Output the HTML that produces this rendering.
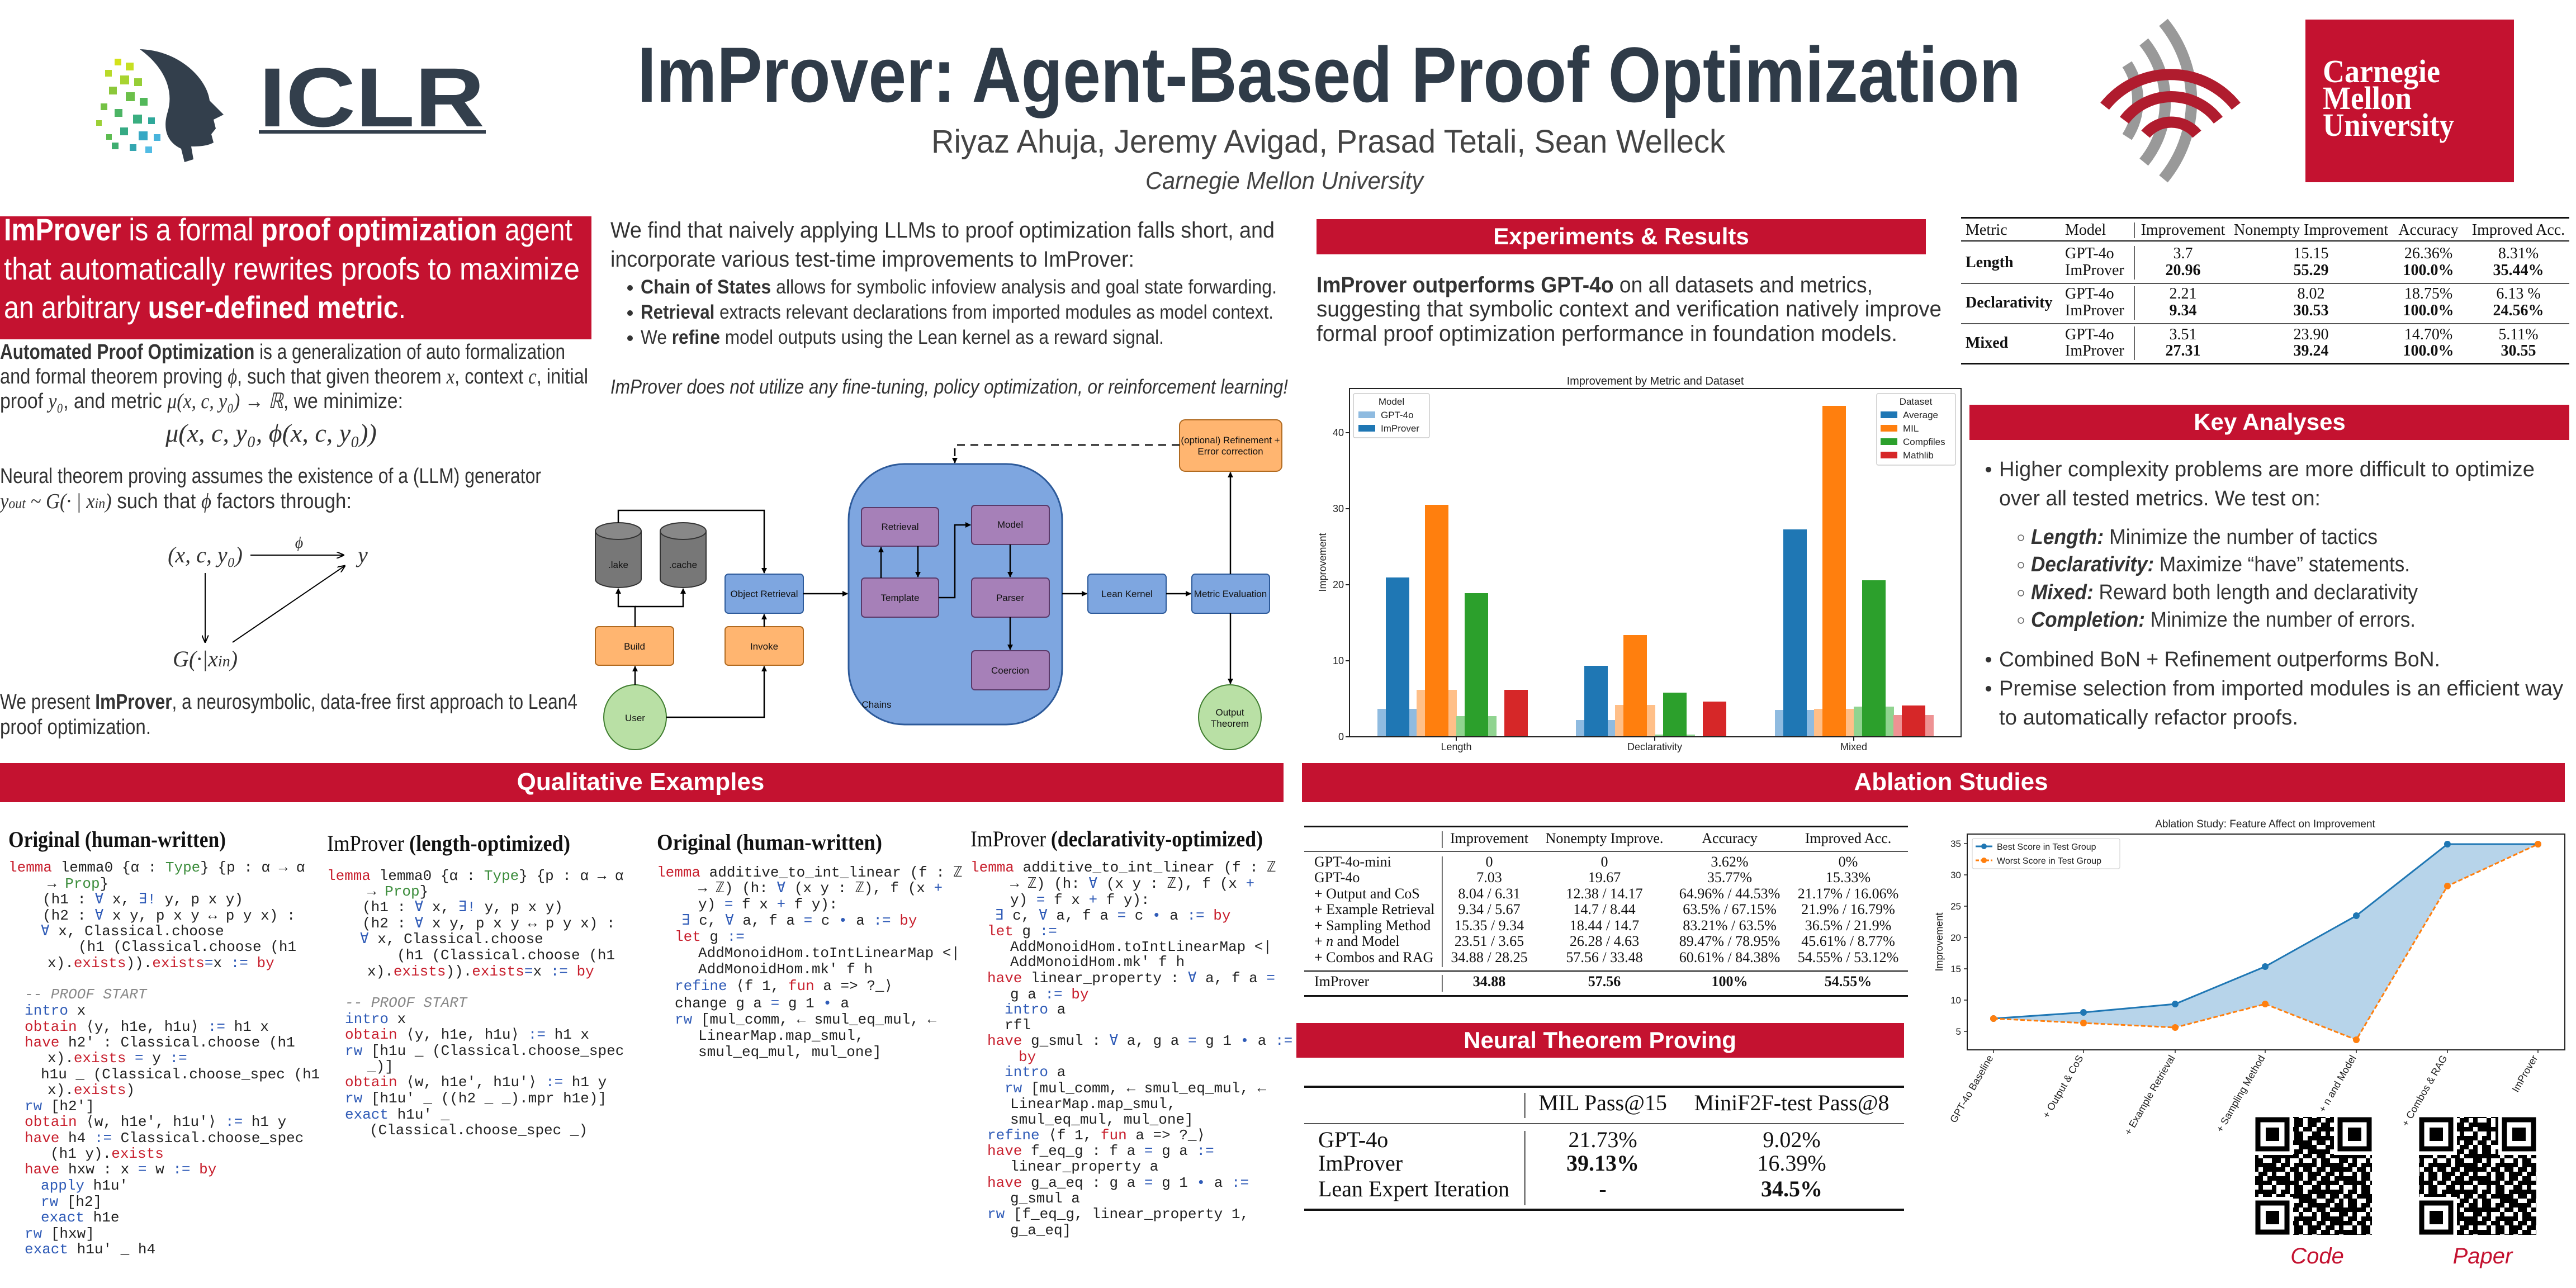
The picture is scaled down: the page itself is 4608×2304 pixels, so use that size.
<!DOCTYPE html>
<html><head><meta charset="utf-8"><style>
html,body{margin:0;padding:0;background:#fff;}
svg{display:block}
.s{font-family:"Liberation Sans",sans-serif}
.sr{font-family:"Liberation Serif",serif}
.m{font-family:"Liberation Mono",monospace;font-size:26px;fill:#222}
.k{fill:#c8202e}.t{fill:#2f5bb7}.g{fill:#3c8d3c}.c{fill:#888;font-style:italic}
.bx{font-family:"Liberation Sans",sans-serif;font-size:17px;fill:#111;text-anchor:middle}
</style></head><body>
<svg width="4608" height="2304" viewBox="0 0 4608 2304" xmlns="http://www.w3.org/2000/svg">
<defs>
<marker id="ar" markerWidth="10" markerHeight="10" refX="9" refY="5" orient="auto" markerUnits="userSpaceOnUse"><path d="M0,0 L10,5 L0,10 z" fill="#000"/></marker>
<marker id="ar2" markerWidth="14" markerHeight="12" refX="13" refY="6" orient="auto" markerUnits="userSpaceOnUse"><path d="M0,0 L14,6 L0,12" fill="none" stroke="#000" stroke-width="2"/></marker>
<pattern id="qr" width="24" height="24" patternUnits="userSpaceOnUse"><rect x="0" y="0" width="8" height="8"/><rect x="16" y="0" width="8" height="8"/><rect x="8" y="8" width="8" height="8"/><rect x="0" y="16" width="16" height="8"/></pattern>
<pattern id="qr2" width="40" height="32" patternUnits="userSpaceOnUse"><rect x="0" y="0" width="16" height="8"/><rect x="24" y="8" width="8" height="16"/><rect x="8" y="16" width="8" height="8"/><rect x="32" y="24" width="8" height="8"/></pattern>
</defs>
<rect width="4608" height="2304" fill="#fff"/>

<!-- ICLR logo -->
<path d="M250,88 C320,90 370,140 375,180 L400,205 L382,214 L386,230 L378,240 L382,255 C370,262 352,262 342,262 L346,285 L330,290 L324,266 C300,255 290,232 300,200 C312,160 292,118 250,88 Z" fill="#333f4c"/>
<g>
<rect x="205" y="105" width="12" height="12" fill="#d4e21a"/><rect x="225" y="112" width="14" height="14" fill="#c6df22"/><rect x="188" y="125" width="12" height="12" fill="#b8da2a"/><rect x="215" y="135" width="16" height="16" fill="#a8d430"/><rect x="240" y="140" width="14" height="14" fill="#96ce36"/><rect x="195" y="155" width="14" height="14" fill="#8cc83a"/><rect x="225" y="165" width="16" height="16" fill="#6cc04a"/><rect x="250" y="175" width="14" height="14" fill="#52b85a"/><rect x="180" y="185" width="12" height="12" fill="#74c244"/><rect x="205" y="195" width="14" height="14" fill="#4cb464"/><rect x="238" y="205" width="16" height="16" fill="#3aae80"/><rect x="265" y="210" width="12" height="12" fill="#2fa89a"/><rect x="215" y="228" width="14" height="14" fill="#36aa84"/><rect x="248" y="235" width="16" height="16" fill="#36a8c4"/><rect x="275" y="240" width="12" height="12" fill="#48b4dc"/><rect x="200" y="255" width="12" height="12" fill="#3fae70"/><rect x="232" y="258" width="12" height="12" fill="#33a6b0"/><rect x="260" y="262" width="12" height="12" fill="#52bce4"/><rect x="172" y="215" width="10" height="10" fill="#9cd036"/><rect x="190" y="240" width="10" height="10" fill="#5cbc50"/>
</g>
<text x="463" y="226" class="s" font-size="150" font-weight="bold" fill="#333f4c" textLength="404" lengthAdjust="spacingAndGlyphs">ICLR</text>
<rect x="463" y="233" width="406" height="6" fill="#333f4c"/>

<!-- Title -->
<text x="1140" y="182" class="s" font-size="140" font-weight="bold" fill="#2f3b48" textLength="2475" lengthAdjust="spacingAndGlyphs">ImProver: Agent-Based Proof Optimization</text>
<text x="1666" y="273" class="s" font-size="58" fill="#444" textLength="1420" lengthAdjust="spacingAndGlyphs">Riyaz Ahuja, Jeremy Avigad, Prasad Tetali, Sean Welleck</text>
<text x="2049" y="338" class="s" font-size="44" font-style="italic" fill="#444" textLength="497" lengthAdjust="spacingAndGlyphs">Carnegie Mellon University</text>

<!-- CMU wave logo -->
<g fill="none" stroke-width="20" stroke-linecap="butt">
<path d="M3805,115 A120,120 0 0 1 3805,245" stroke="#999"/>
<path d="M3835,75 A170,170 0 0 1 3835,290" stroke="#999"/>
<path d="M3870,40 A220,220 0 0 1 3870,320" stroke="#999"/>
<path d="M3838,240 A60,60 0 0 1 3930,240" stroke="#b01c2e"/>
<path d="M3800,215 A105,105 0 0 1 3968,215" stroke="#b01c2e"/>
<path d="M3765,190 A150,150 0 0 1 4000,190" stroke="#b01c2e"/>
</g>
<!-- CMU box -->
<rect x="4124" y="35" width="373" height="291" fill="#c41230"/>
<text x="4155" y="147" class="sr" font-size="58" font-weight="bold" fill="#fff" textLength="210" lengthAdjust="spacingAndGlyphs">Carnegie</text>
<text x="4155" y="195" class="sr" font-size="58" font-weight="bold" fill="#fff" textLength="159" lengthAdjust="spacingAndGlyphs">Mellon</text>
<text x="4155" y="243" class="sr" font-size="58" font-weight="bold" fill="#fff" textLength="235" lengthAdjust="spacingAndGlyphs">University</text>

<!-- Left column -->
<rect x="0" y="387" width="1058" height="220" fill="#c41230"/>
<g class="s" font-size="56" fill="#fff">
<text x="7" y="430" textLength="1017" lengthAdjust="spacingAndGlyphs"><tspan font-weight="bold">ImProver</tspan> is a formal <tspan font-weight="bold">proof optimization</tspan> agent</text>
<text x="7" y="500" textLength="1030" lengthAdjust="spacingAndGlyphs">that automatically rewrites proofs to maximize</text>
<text x="7" y="569" textLength="719" lengthAdjust="spacingAndGlyphs">an arbitrary <tspan font-weight="bold">user-defined metric</tspan>.</text>
</g>
<g class="s" font-size="38" fill="#333">
<text x="0" y="642" textLength="1011" lengthAdjust="spacingAndGlyphs"><tspan font-weight="bold">Automated Proof Optimization</tspan> is a generalization of auto formalization</text>
<text x="0" y="686" textLength="1052" lengthAdjust="spacingAndGlyphs">and formal theorem proving <tspan font-style="italic" font-family="Liberation Serif">ϕ</tspan>, such that given theorem <tspan font-style="italic" font-family="Liberation Serif">x</tspan>, context <tspan font-style="italic" font-family="Liberation Serif">c</tspan>, initial</text>
<text x="0" y="730" textLength="721" lengthAdjust="spacingAndGlyphs">proof <tspan font-style="italic" font-family="Liberation Serif">y₀</tspan>,  and metric <tspan font-style="italic" font-family="Liberation Serif">μ(x, c, y₀) → ℝ</tspan>, we minimize:</text>
<text x="485" y="790" text-anchor="middle" font-family="Liberation Serif" font-style="italic" font-size="46">μ(x, c, y₀, ϕ(x, c, y₀))</text>
<text x="0" y="864" textLength="968" lengthAdjust="spacingAndGlyphs">Neural theorem proving assumes the existence of a (LLM) generator</text>
<text x="0" y="909" textLength="629" lengthAdjust="spacingAndGlyphs"><tspan font-style="italic" font-family="Liberation Serif">y<tspan font-size="26">out</tspan> ~ G(· | x<tspan font-size="26">in</tspan>)</tspan>  such that <tspan font-style="italic" font-family="Liberation Serif">ϕ</tspan> factors through:</text>
<text x="367" y="1006" text-anchor="middle" font-family="Liberation Serif" font-style="italic" font-size="40">(x, c, y₀)</text>
<text x="535" y="980" text-anchor="middle" font-family="Liberation Serif" font-style="italic" font-size="28">ϕ</text>
<text x="640" y="1006" font-family="Liberation Serif" font-style="italic" font-size="40">y</text>
<text x="367" y="1192" text-anchor="middle" font-family="Liberation Serif" font-style="italic" font-size="40">G(·|x<tspan font-size="28">in</tspan>)</text>
<text x="0" y="1268" textLength="1033" lengthAdjust="spacingAndGlyphs">We present <tspan font-weight="bold">ImProver</tspan>, a neurosymbolic, data-free first approach to Lean4</text>
<text x="0" y="1313" textLength="270" lengthAdjust="spacingAndGlyphs">proof optimization.</text>
</g>
<g stroke="#000" stroke-width="2" fill="none">
<line x1="448" y1="993" x2="615" y2="993" marker-end="url(#ar2)"/>
<line x1="367" y1="1025" x2="367" y2="1149" marker-end="url(#ar2)"/>
<line x1="416" y1="1149" x2="617" y2="1012" marker-end="url(#ar2)"/>
</g>

<!-- Middle column -->
<g class="s" fill="#333">
<text x="1092" y="425" font-size="40" textLength="1188" lengthAdjust="spacingAndGlyphs">We find that naively applying LLMs to proof optimization falls short, and</text>
<text x="1092" y="477" font-size="40" textLength="937" lengthAdjust="spacingAndGlyphs">incorporate various test-time improvements to ImProver:</text>
<circle cx="1127" cy="515" r="5" fill="#333"/><circle cx="1127" cy="560" r="5" fill="#333"/><circle cx="1127" cy="605" r="5" fill="#333"/>
<text x="1146" y="525" font-size="35" textLength="1138" lengthAdjust="spacingAndGlyphs"><tspan font-weight="bold">Chain of States</tspan> allows for symbolic infoview analysis and goal state forwarding.</text>
<text x="1146" y="570" font-size="35" textLength="1132" lengthAdjust="spacingAndGlyphs"><tspan font-weight="bold">Retrieval</tspan> extracts relevant declarations from imported modules as model context.</text>
<text x="1146" y="615" font-size="35" textLength="936" lengthAdjust="spacingAndGlyphs">We <tspan font-weight="bold">refine</tspan> model outputs using the Lean kernel as a reward signal.</text>
<text x="1092" y="704" font-size="36" font-style="italic" textLength="1212" lengthAdjust="spacingAndGlyphs">ImProver does not utilize any fine-tuning, policy optimization, or reinforcement learning!</text>
</g>

<!-- Flow diagram -->
<g stroke="#333" stroke-width="2">
<rect x="1518" y="830" width="382" height="466" rx="100" fill="#7ea6e0" stroke="#2d5a9a" stroke-width="3"/>
<!-- cylinders -->
<path d="M1065,950 L1065,1036 A41,15 0 0 0 1147,1036 L1147,950" fill="#777"/>
<ellipse cx="1106" cy="950" rx="41" ry="15" fill="#888"/>
<path d="M1181,950 L1181,1036 A41,15 0 0 0 1263,1036 L1263,950" fill="#777"/>
<ellipse cx="1222" cy="950" rx="41" ry="15" fill="#888"/>
<rect x="1065" y="1121" width="140" height="69" rx="6" fill="#ffb570" stroke="#b06a20"/>
<rect x="1297" y="1121" width="140" height="69" rx="6" fill="#ffb570" stroke="#b06a20"/>
<rect x="1297" y="1027" width="140" height="70" rx="6" fill="#7ea6e0" stroke="#2d5a9a"/>
<rect x="1541" y="908" width="138" height="69" rx="6" fill="#a680b8" stroke="#5a3a6a"/>
<rect x="1738" y="904" width="139" height="70" rx="6" fill="#a680b8" stroke="#5a3a6a"/>
<rect x="1541" y="1034" width="138" height="70" rx="6" fill="#a680b8" stroke="#5a3a6a"/>
<rect x="1738" y="1034" width="139" height="70" rx="6" fill="#a680b8" stroke="#5a3a6a"/>
<rect x="1738" y="1164" width="139" height="70" rx="6" fill="#a680b8" stroke="#5a3a6a"/>
<rect x="1946" y="1027" width="140" height="70" rx="6" fill="#7ea6e0" stroke="#2d5a9a"/>
<rect x="2132" y="1027" width="139" height="70" rx="6" fill="#7ea6e0" stroke="#2d5a9a"/>
<rect x="2110" y="751" width="183" height="92" rx="10" fill="#ffb570" stroke="#b06a20"/>
<ellipse cx="1136" cy="1283" rx="56" ry="58" fill="#b9e0a5" stroke="#3f7d2f"/>
<ellipse cx="2200" cy="1283" rx="56" ry="58" fill="#b9e0a5" stroke="#3f7d2f"/>
</g>
<g stroke="#000" stroke-width="2.5" fill="none">
<line x1="1136" y1="1225" x2="1136" y2="1192" marker-end="url(#ar)"/>
<polyline points="1136,1121 1136,1085 1106,1085 1106,1053" marker-end="url(#ar)"/>
<polyline points="1136,1085 1222,1085 1222,1053" marker-end="url(#ar)"/>
<polyline points="1106,935 1106,913 1367,913 1367,1025" marker-end="url(#ar)"/>
<polyline points="1192,1283 1367,1283 1367,1192" marker-end="url(#ar)"/>
<line x1="1367" y1="1121" x2="1367" y2="1099" marker-end="url(#ar)"/>
<line x1="1437" y1="1062" x2="1516" y2="1062" marker-end="url(#ar)"/>
<line x1="1642" y1="977" x2="1642" y2="1032" marker-end="url(#ar)"/>
<line x1="1576" y1="1034" x2="1576" y2="979" marker-end="url(#ar)"/>
<polyline points="1679,1069 1708,1069 1708,939 1736,939" marker-end="url(#ar)"/>
<line x1="1807" y1="974" x2="1807" y2="1032" marker-end="url(#ar)"/>
<line x1="1807" y1="1104" x2="1807" y2="1162" marker-end="url(#ar)"/>
<line x1="1900" y1="1062" x2="1944" y2="1062" marker-end="url(#ar)"/>
<line x1="2086" y1="1062" x2="2130" y2="1062" marker-end="url(#ar)"/>
<line x1="2201" y1="1027" x2="2201" y2="845" marker-end="url(#ar)"/>
<line x1="2201" y1="1097" x2="2201" y2="1223" marker-end="url(#ar)"/>
<polyline points="2110,796 1708,796 1708,828" stroke-dasharray="14,10" marker-end="url(#ar)"/>
</g>
<g class="bx">
<text x="1106" y="1016">.lake</text><text x="1222" y="1016">.cache</text>
<text x="1135" y="1162">Build</text><text x="1367" y="1162">Invoke</text>
<text x="1367" y="1068">Object Retrieval</text>
<text x="1610" y="948">Retrieval</text><text x="1807" y="944">Model</text>
<text x="1610" y="1075">Template</text><text x="1807" y="1075">Parser</text>
<text x="1807" y="1205">Coercion</text>
<text x="2016" y="1068">Lean Kernel</text><text x="2201" y="1068">Metric Evaluation</text>
<text x="2201" y="793">(optional) Refinement +</text><text x="2201" y="813">Error correction</text>
<text x="1136" y="1290">User</text><text x="2200" y="1280">Output</text><text x="2200" y="1300">Theorem</text>
<text x="1568" y="1266">Chains</text>
</g>

<!-- Experiments & Results -->
<rect x="2355" y="392" width="1090" height="63" fill="#c41230"/>
<text x="2900" y="437" text-anchor="middle" class="s" font-size="42" font-weight="bold" fill="#fff">Experiments &amp; Results</text>
<g class="s" font-size="40" fill="#333">
<text x="2355" y="523" textLength="995" lengthAdjust="spacingAndGlyphs"><tspan font-weight="bold">ImProver outperforms GPT-4o</tspan> on all datasets and metrics,</text>
<text x="2355" y="566" textLength="1118" lengthAdjust="spacingAndGlyphs">suggesting that symbolic context and verification natively improve</text>
<text x="2355" y="610" textLength="1039" lengthAdjust="spacingAndGlyphs">formal proof optimization performance in foundation models.</text>
</g>

<!-- Results table -->
<g class="sr" font-size="28" fill="#111">
<rect x="3508" y="388" width="1088" height="3" fill="#111"/>
<rect x="3508" y="430" width="1088" height="2" fill="#111"/>
<rect x="3508" y="506" width="1088" height="2" fill="#555"/>
<rect x="3508" y="578" width="1088" height="2" fill="#555"/>
<rect x="3508" y="649" width="1088" height="3" fill="#111"/>
<rect x="3817" y="398" width="1.5" height="28" fill="#111"/>
<rect x="3817" y="440" width="1.5" height="60" fill="#111"/>
<rect x="3817" y="512" width="1.5" height="60" fill="#111"/>
<rect x="3817" y="584" width="1.5" height="60" fill="#111"/>
<text x="3516" y="420">Metric</text><text x="3694" y="420">Model</text>
<g text-anchor="middle">
<text x="3905" y="420">Improvement</text><text x="4134" y="420">Nonempty Improvement</text><text x="4344" y="420">Accuracy</text><text x="4505" y="420">Improved Acc.</text>
</g>
<text x="3516" y="478" font-weight="bold">Length</text>
<text x="3516" y="550" font-weight="bold">Declarativity</text>
<text x="3516" y="622" font-weight="bold">Mixed</text>
<text x="3694" y="462">GPT-4o</text><text x="3694" y="492">ImProver</text>
<text x="3694" y="534">GPT-4o</text><text x="3694" y="564">ImProver</text>
<text x="3694" y="607">GPT-4o</text><text x="3694" y="636">ImProver</text>
<g text-anchor="middle">
<text x="3905" y="462">3.7</text><text x="4134" y="462">15.15</text><text x="4344" y="462">26.36%</text><text x="4505" y="462">8.31%</text>
<g font-weight="bold"><text x="3905" y="492">20.96</text><text x="4134" y="492">55.29</text><text x="4344" y="492">100.0%</text><text x="4505" y="492">35.44%</text></g>
<text x="3905" y="534">2.21</text><text x="4134" y="534">8.02</text><text x="4344" y="534">18.75%</text><text x="4505" y="534">6.13 %</text>
<g font-weight="bold"><text x="3905" y="564">9.34</text><text x="4134" y="564">30.53</text><text x="4344" y="564">100.0%</text><text x="4505" y="564">24.56%</text></g>
<text x="3905" y="607">3.51</text><text x="4134" y="607">23.90</text><text x="4344" y="607">14.70%</text><text x="4505" y="607">5.11%</text>
<g font-weight="bold"><text x="3905" y="636">27.31</text><text x="4134" y="636">39.24</text><text x="4344" y="636">100.0%</text><text x="4505" y="636">30.55</text></g>
</g>
</g>

<!-- Bar chart -->
<text x="2961" y="688" text-anchor="middle" class="s" font-size="20" fill="#222">Improvement by Metric and Dataset</text>
<g>
<!-- Length -->
<rect x="2464" y="1268" width="72" height="50" fill="#8fbbe0"/>
<rect x="2534" y="1234" width="72" height="84" fill="#ffbf88"/>
<rect x="2605" y="1281" width="72" height="37" fill="#90d490"/>
<rect x="2479" y="1033" width="42" height="285" fill="#1f77b4"/>
<rect x="2549" y="903" width="42" height="415" fill="#ff7f0e"/>
<rect x="2620" y="1061" width="42" height="257" fill="#2ca02c"/>
<rect x="2691" y="1234" width="42" height="84" fill="#d62728"/>
<!-- Declarativity -->
<rect x="2819" y="1288" width="72" height="30" fill="#8fbbe0"/>
<rect x="2889" y="1261" width="72" height="57" fill="#ffbf88"/>
<rect x="2960" y="1314" width="72" height="4" fill="#90d490"/>
<rect x="2834" y="1191" width="42" height="127" fill="#1f77b4"/>
<rect x="2904" y="1136" width="42" height="182" fill="#ff7f0e"/>
<rect x="2975" y="1239" width="42" height="79" fill="#2ca02c"/>
<rect x="3046" y="1255" width="42" height="63" fill="#d62728"/>
<!-- Mixed -->
<rect x="3175" y="1270" width="72" height="48" fill="#8fbbe0"/>
<rect x="3245" y="1268" width="72" height="50" fill="#ffbf88"/>
<rect x="3316" y="1264" width="72" height="54" fill="#90d490"/>
<rect x="3387" y="1279" width="72" height="39" fill="#ee9293"/>
<rect x="3190" y="947" width="42" height="371" fill="#1f77b4"/>
<rect x="3260" y="726" width="42" height="592" fill="#ff7f0e"/>
<rect x="3331" y="1038" width="42" height="280" fill="#2ca02c"/>
<rect x="3402" y="1262" width="42" height="56" fill="#d62728"/>
</g>
<rect x="2414" y="695" width="1094" height="623" fill="none" stroke="#222" stroke-width="2"/>
<g class="s" font-size="18" fill="#222" text-anchor="end">
<text x="2404" y="1324">0</text><text x="2404" y="1188">10</text><text x="2404" y="1052">20</text><text x="2404" y="916">30</text><text x="2404" y="780">40</text>
</g>
<g stroke="#222" stroke-width="2"><line x1="2407" y1="1318" x2="2414" y2="1318"/><line x1="2407" y1="1182" x2="2414" y2="1182"/><line x1="2407" y1="1046" x2="2414" y2="1046"/><line x1="2407" y1="910" x2="2414" y2="910"/><line x1="2407" y1="774" x2="2414" y2="774"/><line x1="2605" y1="1318" x2="2605" y2="1325"/><line x1="2960" y1="1318" x2="2960" y2="1325"/><line x1="3316" y1="1318" x2="3316" y2="1325"/></g>
<g class="s" font-size="18" fill="#222" text-anchor="middle">
<text x="2605" y="1342">Length</text><text x="2960" y="1342">Declarativity</text><text x="3316" y="1342">Mixed</text>
<text transform="translate(2372,1006) rotate(-90)">Improvement</text>
</g>
<rect x="2421" y="704" width="136" height="79" fill="#fff" stroke="#ccc" stroke-width="1.5" rx="3"/>
<g class="s" font-size="17" fill="#222">
<text x="2489" y="724" text-anchor="middle">Model</text>
<rect x="2430" y="736" width="30" height="12" fill="#8fbbe0"/><text x="2470" y="748">GPT-4o</text>
<rect x="2430" y="760" width="30" height="12" fill="#1f77b4"/><text x="2470" y="772">ImProver</text>
</g>
<rect x="3357" y="704" width="141" height="128" fill="#fff" stroke="#ccc" stroke-width="1.5" rx="3"/>
<g class="s" font-size="17" fill="#222">
<text x="3427" y="724" text-anchor="middle">Dataset</text>
<rect x="3364" y="736" width="30" height="12" fill="#1f77b4"/><text x="3404" y="748">Average</text>
<rect x="3364" y="760" width="30" height="12" fill="#ff7f0e"/><text x="3404" y="772">MIL</text>
<rect x="3364" y="784" width="30" height="12" fill="#2ca02c"/><text x="3404" y="796">Compfiles</text>
<rect x="3364" y="808" width="30" height="12" fill="#d62728"/><text x="3404" y="820">Mathlib</text>
</g>

<!-- Key Analyses -->
<rect x="3523" y="724" width="1073" height="63" fill="#c41230"/>
<text x="4060" y="769" text-anchor="middle" class="s" font-size="42" font-weight="bold" fill="#fff">Key Analyses</text>
<g class="s" font-size="38" fill="#333">
<circle cx="3557" cy="840" r="5" fill="#333"/>
<text x="3576" y="852" textLength="958" lengthAdjust="spacingAndGlyphs">Higher complexity problems are more difficult to optimize</text>
<text x="3576" y="904" textLength="575" lengthAdjust="spacingAndGlyphs">over all tested metrics. We test on:</text>
<g fill="none" stroke="#666" stroke-width="1.5"><circle cx="3615" cy="962" r="5"/><circle cx="3615" cy="1011" r="5"/><circle cx="3615" cy="1061" r="5"/><circle cx="3615" cy="1110" r="5"/></g>
<text x="3633" y="973" textLength="620" lengthAdjust="spacingAndGlyphs"><tspan font-weight="bold" font-style="italic">Length:</tspan> Minimize the number of tactics</text>
<text x="3633" y="1022" textLength="678" lengthAdjust="spacingAndGlyphs"><tspan font-weight="bold" font-style="italic">Declarativity:</tspan> Maximize “have” statements.</text>
<text x="3633" y="1072" textLength="692" lengthAdjust="spacingAndGlyphs"><tspan font-weight="bold" font-style="italic">Mixed:</tspan> Reward both length and declarativity</text>
<text x="3633" y="1121" textLength="688" lengthAdjust="spacingAndGlyphs"><tspan font-weight="bold" font-style="italic">Completion:</tspan> Minimize the number of errors.</text>
<circle cx="3557" cy="1180" r="5" fill="#333"/>
<text x="3576" y="1192" textLength="789" lengthAdjust="spacingAndGlyphs">Combined BoN + Refinement outperforms BoN.</text>
<circle cx="3557" cy="1232" r="5" fill="#333"/>
<text x="3576" y="1244" textLength="1009" lengthAdjust="spacingAndGlyphs">Premise selection from imported modules is an efficient way</text>
<text x="3576" y="1296" textLength="535" lengthAdjust="spacingAndGlyphs">to automatically refactor proofs.</text>
</g>

<!-- Qualitative Examples -->
<rect x="0" y="1365" width="2296" height="70" fill="#c41230"/>
<text x="1146" y="1413" text-anchor="middle" class="s" font-size="44" font-weight="bold" fill="#fff">Qualitative Examples</text>
<g class="sr" font-size="40" fill="#111">
<text x="15" y="1515" textLength="389" lengthAdjust="spacingAndGlyphs" font-weight="bold">Original (human-written)</text>
<text x="585" y="1522" textLength="435" lengthAdjust="spacingAndGlyphs">ImProver <tspan font-weight="bold">(length-optimized)</tspan></text>
<text x="1175" y="1520" textLength="403" lengthAdjust="spacingAndGlyphs" font-weight="bold">Original (human-written)</text>
<text x="1736" y="1514" textLength="523" lengthAdjust="spacingAndGlyphs">ImProver <tspan font-weight="bold">(declarativity-optimized)</tspan></text>
</g>
<g class="m" xml:space="preserve">
<!-- col1 -->
<text x="15" y="1559"><tspan class="k">lemma</tspan> lemma0 {α : <tspan class="g">Type</tspan>} {p : α → α</text>
<text x="85" y="1588">→ <tspan class="g">Prop</tspan>}</text>
<text x="76" y="1616">(h1 : <tspan class="t">∀</tspan> x, <tspan class="t">∃!</tspan> y, p x y)</text>
<text x="76" y="1645">(h2 : <tspan class="t">∀</tspan> x y, p x y ↔ p y x) :</text>
<text x="73" y="1673"><tspan class="t">∀</tspan> x, Classical.choose</text>
<text x="140" y="1701">(h1 (Classical.choose (h1</text>
<text x="85" y="1730">x).<tspan class="k">exists</tspan>)).<tspan class="k">exists</tspan><tspan class="t">=</tspan>x <tspan class="t">:=</tspan> <tspan class="k">by</tspan></text>
<text x="44" y="1786" class="c">-- PROOF START</text>
<text x="44" y="1815"><tspan class="t">intro</tspan> x</text>
<text x="44" y="1844"><tspan class="k">obtain</tspan> ⟨y, h1e, h1u⟩ <tspan class="t">:=</tspan> h1 x</text>
<text x="44" y="1872"><tspan class="k">have</tspan> h2' : Classical.choose (h1</text>
<text x="85" y="1900">x).<tspan class="k">exists</tspan> <tspan class="t">=</tspan> y <tspan class="t">:=</tspan></text>
<text x="73" y="1929">h1u _ (Classical.choose_spec (h1</text>
<text x="85" y="1957">x).<tspan class="k">exists</tspan>)</text>
<text x="44" y="1986"><tspan class="t">rw</tspan> [h2']</text>
<text x="44" y="2014"><tspan class="k">obtain</tspan> ⟨w, h1e', h1u'⟩ <tspan class="t">:=</tspan> h1 y</text>
<text x="44" y="2043"><tspan class="k">have</tspan> h4 <tspan class="t">:=</tspan> Classical.choose_spec</text>
<text x="90" y="2071">(h1 y).<tspan class="k">exists</tspan></text>
<text x="44" y="2099"><tspan class="k">have</tspan> hxw : x <tspan class="t">=</tspan> w <tspan class="t">:=</tspan> <tspan class="k">by</tspan></text>
<text x="73" y="2128"><tspan class="t">apply</tspan> h1u'</text>
<text x="73" y="2157"><tspan class="t">rw</tspan> [h2]</text>
<text x="73" y="2185"><tspan class="t">exact</tspan> h1e</text>
<text x="44" y="2214"><tspan class="t">rw</tspan> [hxw]</text>
<text x="44" y="2242"><tspan class="t">exact</tspan> h1u' _ h4</text>
<!-- col2 -->
<text x="585" y="1574"><tspan class="k">lemma</tspan> lemma0 {α : <tspan class="g">Type</tspan>} {p : α → α</text>
<text x="657" y="1602">→ <tspan class="g">Prop</tspan>}</text>
<text x="648" y="1630">(h1 : <tspan class="t">∀</tspan> x, <tspan class="t">∃!</tspan> y, p x y)</text>
<text x="648" y="1659">(h2 : <tspan class="t">∀</tspan> x y, p x y ↔ p y x) :</text>
<text x="644" y="1687"><tspan class="t">∀</tspan> x, Classical.choose</text>
<text x="710" y="1716">(h1 (Classical.choose (h1</text>
<text x="657" y="1745">x).<tspan class="k">exists</tspan>)).<tspan class="k">exists</tspan><tspan class="t">=</tspan>x <tspan class="t">:=</tspan> <tspan class="k">by</tspan></text>
<text x="617" y="1801" class="c">-- PROOF START</text>
<text x="617" y="1830"><tspan class="t">intro</tspan> x</text>
<text x="617" y="1858"><tspan class="k">obtain</tspan> ⟨y, h1e, h1u⟩ <tspan class="t">:=</tspan> h1 x</text>
<text x="617" y="1887"><tspan class="t">rw</tspan> [h1u _ (Classical.choose_spec</text>
<text x="657" y="1915">_)]</text>
<text x="617" y="1943"><tspan class="k">obtain</tspan> ⟨w, h1e', h1u'⟩ <tspan class="t">:=</tspan> h1 y</text>
<text x="617" y="1972"><tspan class="t">rw</tspan> [h1u' _ ((h2 _ _).mpr h1e)]</text>
<text x="617" y="2001"><tspan class="t">exact</tspan> h1u' _</text>
<text x="661" y="2029">(Classical.choose_spec _)</text>
<!-- col3 -->
<text x="1175" y="1568"><tspan class="k">lemma</tspan> additive_to_int_linear (f : ℤ</text>
<text x="1249" y="1596">→ ℤ) (h: <tspan class="t">∀</tspan> (x y : ℤ), f (x <tspan class="t">+</tspan></text>
<text x="1249" y="1625">y) <tspan class="t">=</tspan> f x <tspan class="t">+</tspan> f y):</text>
<text x="1219" y="1654"><tspan class="t">∃</tspan> c, <tspan class="t">∀</tspan> a, f a <tspan class="t">=</tspan> c <tspan class="t">•</tspan> a  <tspan class="t">:=</tspan> <tspan class="k">by</tspan></text>
<text x="1207" y="1683"><tspan class="k">let</tspan> g <tspan class="t">:=</tspan></text>
<text x="1249" y="1712">AddMonoidHom.toIntLinearMap &lt;|</text>
<text x="1249" y="1741">AddMonoidHom.mk' f h</text>
<text x="1207" y="1771"><tspan class="t">refine</tspan> ⟨f 1, <tspan class="k">fun</tspan> a =&gt; ?_⟩</text>
<text x="1207" y="1802">change g a <tspan class="t">=</tspan> g 1 <tspan class="t">•</tspan> a</text>
<text x="1207" y="1831"><tspan class="t">rw</tspan> [mul_comm, ← smul_eq_mul, ←</text>
<text x="1249" y="1860">LinearMap.map_smul,</text>
<text x="1249" y="1889">smul_eq_mul, mul_one]</text>
<!-- col4 -->
<text x="1736" y="1559"><tspan class="k">lemma</tspan> additive_to_int_linear (f : ℤ</text>
<text x="1807" y="1588">→ ℤ) (h: <tspan class="t">∀</tspan> (x y : ℤ), f (x <tspan class="t">+</tspan></text>
<text x="1807" y="1617">y) <tspan class="t">=</tspan> f x <tspan class="t">+</tspan> f y):</text>
<text x="1780" y="1645"><tspan class="t">∃</tspan> c, <tspan class="t">∀</tspan> a, f a <tspan class="t">=</tspan> c <tspan class="t">•</tspan> a  <tspan class="t">:=</tspan> <tspan class="k">by</tspan></text>
<text x="1766" y="1673"><tspan class="k">let</tspan> g <tspan class="t">:=</tspan></text>
<text x="1807" y="1701">AddMonoidHom.toIntLinearMap &lt;|</text>
<text x="1807" y="1728">AddMonoidHom.mk' f h</text>
<text x="1766" y="1757"><tspan class="k">have</tspan> linear_property : <tspan class="t">∀</tspan> a, f a <tspan class="t">=</tspan></text>
<text x="1807" y="1786">g a <tspan class="t">:=</tspan> <tspan class="k">by</tspan></text>
<text x="1797" y="1813"><tspan class="t">intro</tspan> a</text>
<text x="1797" y="1841">rfl</text>
<text x="1766" y="1869"><tspan class="k">have</tspan> g_smul : <tspan class="t">∀</tspan> a, g a <tspan class="t">=</tspan> g 1 <tspan class="t">•</tspan> a <tspan class="t">:=</tspan></text>
<text x="1822" y="1898"><tspan class="k">by</tspan></text>
<text x="1797" y="1925"><tspan class="t">intro</tspan> a</text>
<text x="1797" y="1954"><tspan class="t">rw</tspan> [mul_comm, ← smul_eq_mul, ←</text>
<text x="1807" y="1982">LinearMap.map_smul,</text>
<text x="1807" y="2010">smul_eq_mul, mul_one]</text>
<text x="1766" y="2038"><tspan class="t">refine</tspan> ⟨f 1, <tspan class="k">fun</tspan> a =&gt; ?_⟩</text>
<text x="1766" y="2066"><tspan class="k">have</tspan> f_eq_g : f a <tspan class="t">=</tspan> g a <tspan class="t">:=</tspan></text>
<text x="1807" y="2094">linear_property a</text>
<text x="1766" y="2123"><tspan class="k">have</tspan> g_a_eq : g a <tspan class="t">=</tspan> g 1 <tspan class="t">•</tspan> a <tspan class="t">:=</tspan></text>
<text x="1807" y="2151">g_smul a</text>
<text x="1766" y="2179"><tspan class="t">rw</tspan> [f_eq_g, linear_property 1,</text>
<text x="1807" y="2208">g_a_eq]</text>
</g>

<!-- Ablation Studies -->
<rect x="2329" y="1365" width="2259" height="70" fill="#c41230"/>
<text x="3490" y="1413" text-anchor="middle" class="s" font-size="44" font-weight="bold" fill="#fff">Ablation Studies</text>
<g class="sr" font-size="26" fill="#111">
<rect x="2333" y="1477" width="1080" height="3" fill="#111"/>
<rect x="2333" y="1522" width="1080" height="2" fill="#555"/>
<rect x="2333" y="1736" width="1080" height="2" fill="#111"/>
<rect x="2333" y="1780" width="1080" height="3" fill="#111"/>
<rect x="2579" y="1487" width="1.5" height="30" fill="#111"/>
<rect x="2579" y="1532" width="1.5" height="198" fill="#111"/>
<rect x="2579" y="1744" width="1.5" height="30" fill="#111"/>
<g text-anchor="middle">
<text x="2664" y="1508">Improvement</text><text x="2870" y="1508">Nonempty Improve.</text><text x="3094" y="1508">Accuracy</text><text x="3306" y="1508">Improved Acc.</text>
</g>
<text x="2351" y="1550">GPT-4o-mini</text>
<text x="2351" y="1578">GPT-4o</text>
<text x="2351" y="1607">+ Output and CoS</text>
<text x="2351" y="1635">+ Example Retrieval</text>
<text x="2351" y="1664">+ Sampling Method</text>
<text x="2351" y="1692">+ <tspan font-style="italic">n</tspan> and Model</text>
<text x="2351" y="1721">+ Combos and RAG</text>
<text x="2351" y="1764">ImProver</text>
<g text-anchor="middle">
<text x="2664" y="1550">0</text><text x="2870" y="1550">0</text><text x="3094" y="1550">3.62%</text><text x="3306" y="1550">0%</text>
<text x="2664" y="1578">7.03</text><text x="2870" y="1578">19.67</text><text x="3094" y="1578">35.77%</text><text x="3306" y="1578">15.33%</text>
<text x="2664" y="1607">8.04 / 6.31</text><text x="2870" y="1607">12.38 / 14.17</text><text x="3094" y="1607">64.96% / 44.53%</text><text x="3306" y="1607">21.17% / 16.06%</text>
<text x="2664" y="1635">9.34 / 5.67</text><text x="2870" y="1635">14.7 / 8.44</text><text x="3094" y="1635">63.5% / 67.15%</text><text x="3306" y="1635">21.9% / 16.79%</text>
<text x="2664" y="1664">15.35 / 9.34</text><text x="2870" y="1664">18.44 / 14.7</text><text x="3094" y="1664">83.21% / 63.5%</text><text x="3306" y="1664">36.5% / 21.9%</text>
<text x="2664" y="1692">23.51 / 3.65</text><text x="2870" y="1692">26.28 / 4.63</text><text x="3094" y="1692">89.47% / 78.95%</text><text x="3306" y="1692">45.61% / 8.77%</text>
<text x="2664" y="1721">34.88 / 28.25</text><text x="2870" y="1721">57.56 / 33.48</text><text x="3094" y="1721">60.61% / 84.38%</text><text x="3306" y="1721">54.55% / 53.12%</text>
<g font-weight="bold"><text x="2664" y="1764">34.88</text><text x="2870" y="1764">57.56</text><text x="3094" y="1764">100%</text><text x="3306" y="1764">54.55%</text></g>
</g>
</g>

<!-- Neural Theorem Proving -->
<rect x="2319" y="1830" width="1087" height="62" fill="#c41230"/>
<text x="2862" y="1875" text-anchor="middle" class="s" font-size="42" font-weight="bold" fill="#fff">Neural Theorem Proving</text>
<g class="sr" font-size="40" fill="#111">
<rect x="2333" y="1942" width="1073" height="4" fill="#111"/>
<rect x="2333" y="2009" width="1073" height="2" fill="#555"/>
<rect x="2333" y="2162" width="1073" height="4" fill="#111"/>
<rect x="2727" y="1955" width="1.5" height="45" fill="#111"/>
<rect x="2727" y="2023" width="1.5" height="133" fill="#111"/>
<g text-anchor="middle"><text x="2867" y="1986">MIL Pass@15</text><text x="3205" y="1986">MiniF2F-test Pass@8</text></g>
<text x="2358" y="2052">GPT-4o</text><text x="2358" y="2094">ImProver</text><text x="2358" y="2140">Lean Expert Iteration</text>
<g text-anchor="middle">
<text x="2867" y="2052">21.73%</text><text x="3205" y="2052">9.02%</text>
<text x="2867" y="2094" font-weight="bold">39.13%</text><text x="3205" y="2094">16.39%</text>
<text x="2867" y="2140">-</text><text x="3205" y="2140" font-weight="bold">34.5%</text>
</g>
</g>

<!-- Line chart -->
<text x="4052" y="1480" text-anchor="middle" class="s" font-size="19" fill="#222">Ablation Study: Feature Affect on Improvement</text>
<polygon points="3566,1822 3727,1811 3891,1796 4052,1729 4215,1638 4378,1510 4540,1510 4540,1510 4378,1585 4215,1860 4052,1796 3891,1838 3727,1830 3566,1822" fill="#b7d4ea"/>
<polyline points="3566,1822 3727,1811 3891,1796 4052,1729 4215,1638 4378,1510 4540,1510" fill="none" stroke="#1f77b4" stroke-width="3"/>
<polyline points="3566,1822 3727,1830 3891,1838 4052,1796 4215,1860 4378,1585 4540,1510" fill="none" stroke="#ff7f0e" stroke-width="3" stroke-dasharray="8,4"/>
<g fill="#1f77b4"><circle cx="3566" cy="1822" r="6"/><circle cx="3727" cy="1811" r="6"/><circle cx="3891" cy="1796" r="6"/><circle cx="4052" cy="1729" r="6"/><circle cx="4215" cy="1638" r="6"/><circle cx="4378" cy="1510" r="6"/><circle cx="4540" cy="1510" r="6"/></g>
<g fill="#ff7f0e"><circle cx="3566" cy="1822" r="6"/><circle cx="3727" cy="1830" r="6"/><circle cx="3891" cy="1838" r="6"/><circle cx="4052" cy="1796" r="6"/><circle cx="4215" cy="1860" r="6"/><circle cx="4378" cy="1585" r="6"/><circle cx="4540" cy="1510" r="6"/></g>
<rect x="3519" y="1492" width="1069" height="386" fill="none" stroke="#222" stroke-width="2"/>
<g class="s" font-size="17" fill="#222" text-anchor="end">
<text x="3508" y="1851">5</text><text x="3508" y="1795">10</text><text x="3508" y="1739">15</text><text x="3508" y="1683">20</text><text x="3508" y="1627">25</text><text x="3508" y="1571">30</text><text x="3508" y="1515">35</text>
</g>
<g stroke="#222" stroke-width="1.5">
<line x1="3513" y1="1845" x2="3519" y2="1845"/><line x1="3513" y1="1789" x2="3519" y2="1789"/><line x1="3513" y1="1733" x2="3519" y2="1733"/><line x1="3513" y1="1677" x2="3519" y2="1677"/><line x1="3513" y1="1621" x2="3519" y2="1621"/><line x1="3513" y1="1565" x2="3519" y2="1565"/><line x1="3513" y1="1509" x2="3519" y2="1509"/>
<line x1="3566" y1="1878" x2="3566" y2="1884"/><line x1="3727" y1="1878" x2="3727" y2="1884"/><line x1="3891" y1="1878" x2="3891" y2="1884"/><line x1="4052" y1="1878" x2="4052" y2="1884"/><line x1="4215" y1="1878" x2="4215" y2="1884"/><line x1="4378" y1="1878" x2="4378" y2="1884"/><line x1="4540" y1="1878" x2="4540" y2="1884"/>
</g>
<text transform="translate(3475,1685) rotate(-90)" text-anchor="middle" class="s" font-size="18" fill="#222">Improvement</text>
<g class="s" font-size="18" fill="#222" text-anchor="end">
<text transform="translate(3566,1892) rotate(-60)">GPT-4o Baseline</text>
<text transform="translate(3727,1892) rotate(-60)">+ Output &amp; CoS</text>
<text transform="translate(3891,1892) rotate(-60)">+ Example Retrieval</text>
<text transform="translate(4052,1892) rotate(-60)">+ Sampling Method</text>
<text transform="translate(4215,1892) rotate(-60)">+ n and Model</text>
<text transform="translate(4378,1892) rotate(-60)">+ Combos &amp; RAG</text>
<text transform="translate(4540,1892) rotate(-60)">ImProver</text>
</g>
<rect x="3528" y="1500" width="264" height="54" fill="#fff" stroke="#ccc" rx="3"/>
<g class="s" font-size="16" fill="#222">
<line x1="3534" y1="1514" x2="3564" y2="1514" stroke="#1f77b4" stroke-width="3"/><circle cx="3549" cy="1514" r="5" fill="#1f77b4"/><text x="3572" y="1520">Best Score in Test Group</text>
<line x1="3534" y1="1539" x2="3564" y2="1539" stroke="#ff7f0e" stroke-width="3" stroke-dasharray="6,3"/><circle cx="3549" cy="1539" r="5" fill="#ff7f0e"/><text x="3572" y="1545">Worst Score in Test Group</text>
</g>

<!-- QR codes -->
<g>
<rect x="4034" y="1998" width="209" height="211" fill="url(#qr)"/>
<rect x="4034" y="1998" width="209" height="211" fill="url(#qr2)"/>
<rect x="4327" y="1998" width="210" height="211" fill="url(#qr2)"/>
<rect x="4327" y="1998" width="210" height="211" fill="url(#qr)"/>
<g fill="#fff"><rect x="4034" y="1998" width="68" height="68"/><rect x="4175" y="1998" width="68" height="68"/><rect x="4034" y="2141" width="68" height="68"/><rect x="4327" y="1998" width="68" height="68"/><rect x="4469" y="1998" width="68" height="68"/><rect x="4327" y="2141" width="68" height="68"/></g>
<g fill="none" stroke="#000" stroke-width="9">
<rect x="4039" y="2003" width="52" height="52"/><rect x="4186" y="2003" width="52" height="52"/><rect x="4039" y="2152" width="52" height="52"/>
<rect x="4332" y="2003" width="52" height="52"/><rect x="4480" y="2003" width="52" height="52"/><rect x="4332" y="2152" width="52" height="52"/>
</g>
<g fill="#000">
<rect x="4053" y="2017" width="24" height="24"/><rect x="4200" y="2017" width="24" height="24"/><rect x="4053" y="2166" width="24" height="24"/>
<rect x="4346" y="2017" width="24" height="24"/><rect x="4494" y="2017" width="24" height="24"/><rect x="4346" y="2166" width="24" height="24"/>
</g>
</g>
<text x="4145" y="2260" text-anchor="middle" class="s" font-size="40" font-style="italic" fill="#c41230">Code</text>
<text x="4441" y="2260" text-anchor="middle" class="s" font-size="40" font-style="italic" fill="#c41230">Paper</text>
</svg>
</body></html>
